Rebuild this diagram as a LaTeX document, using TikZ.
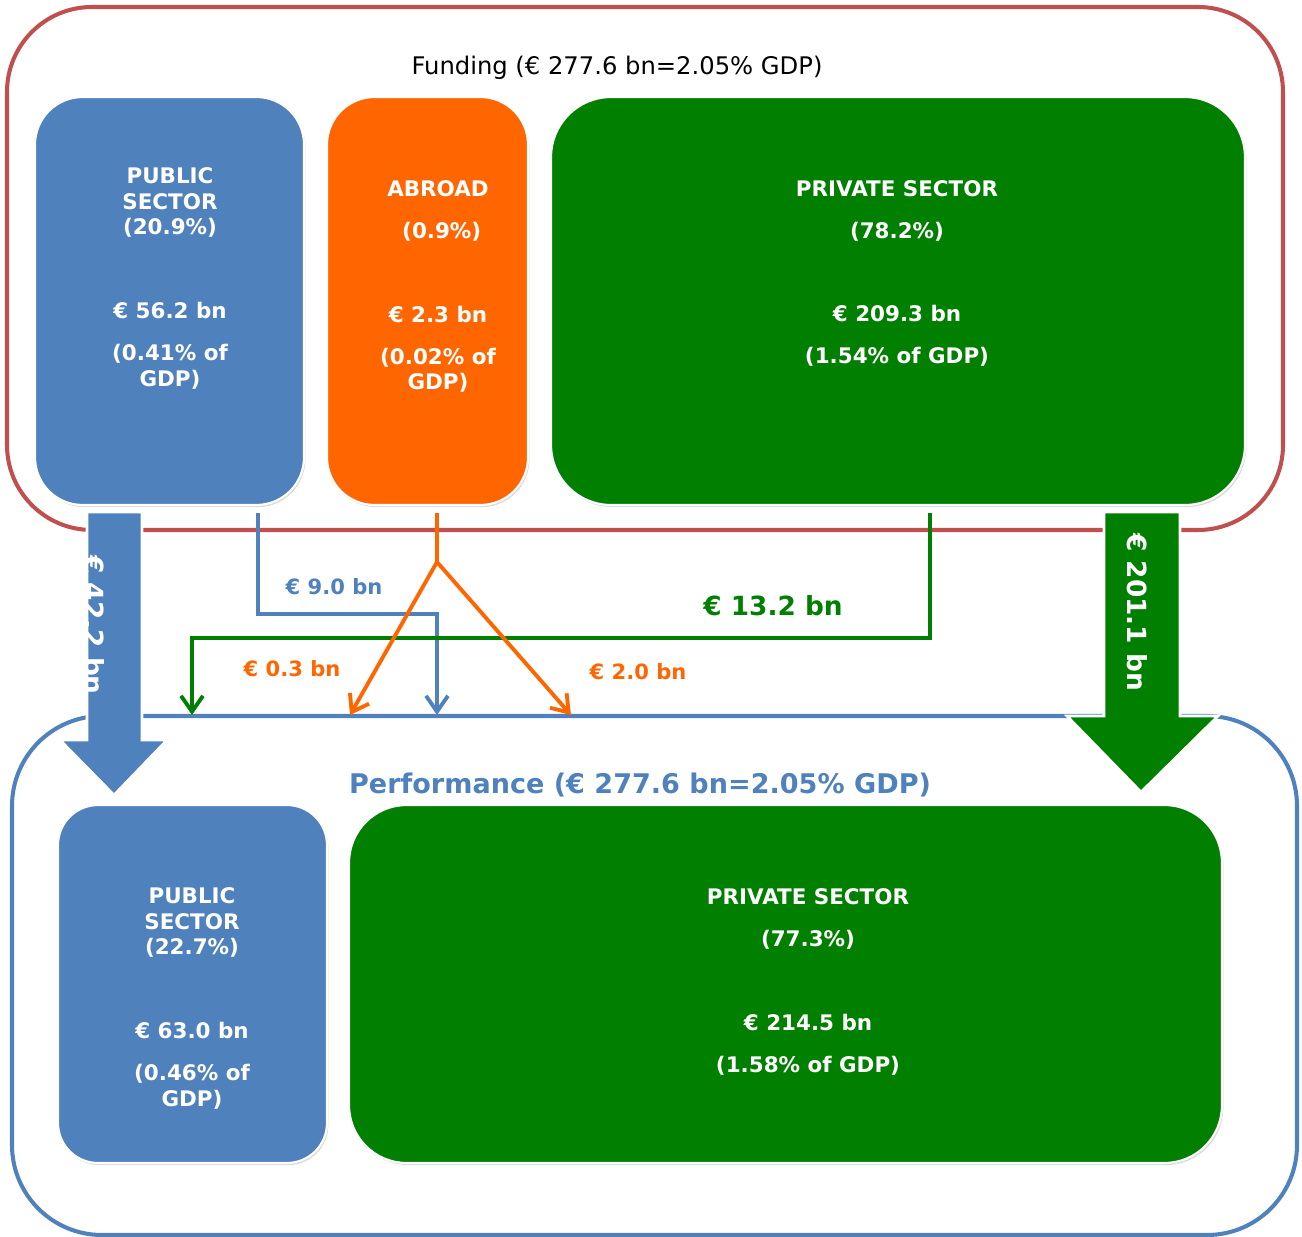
\documentclass[tikz,border=0pt]{standalone}
\usepackage{fontspec}
\setmainfont{DejaVu Sans}
\usepackage{tikz}
\usepackage{xcolor}
\usetikzlibrary{arrows.meta, shadows, positioning, calc}

\definecolor{pubblue}{HTML}{4F81BD}
\definecolor{abrorange}{HTML}{FF6600}
\definecolor{privgreen}{HTML}{007F00}
\definecolor{fundred}{HTML}{C0504D}

\begin{document}
\begin{tikzpicture}[x=0.02cm, y=-0.02cm,
    sectorbox/.style={draw=white, line width=1.2pt, rounded corners=#1, inner sep=0pt,
        drop shadow={shadow xshift=0.8pt, shadow yshift=-1.2pt, opacity=0.3}},
    boxtext/.style={text=white, align=center, inner sep=0pt,
        font=\bfseries\fontsize{12.2}{14.5}\selectfont},
    flowline/.style={line width=2.2pt},
    flowtip/.style={-{Straight Barb[length=9pt, width=12.5pt]}},
    flowlabel/.style={font=\bfseries\fontsize{12}{14.5}\selectfont},
    bigflow/.style={draw=white, line width=1.5pt},
    biglabel/.style={text=white, inner sep=0pt, rotate=-90,
        font=\bfseries\fontsize{15}{18}\selectfont}]
    \useasboundingbox (0,0) rectangle (1302,1237);

    % Funding and performance frames
    \draw[fundred, line width=2.3pt, rounded corners=1.7cm] (7,7) rectangle (1283,530);
    \draw[pubblue, line width=2.3pt, rounded corners=1.8cm] (12,716) rectangle (1297,1235);

    \node (fundTitle) at (617,68) {\fontsize{13.8}{16}\selectfont Funding (€ 277.6 bn=2.05\% GDP)};
    \node[text=pubblue] (perfTitle) at (640,785)
        {\bfseries\fontsize{15.4}{18}\selectfont Performance (€ 277.6 bn=2.05\% GDP)};

    % Funding sectors
    \node[sectorbox=0.95cm, fill=pubblue, minimum width=5.38cm, minimum height=8.16cm] (pubF) at (169.5,301) {};
    \node[sectorbox=0.95cm, fill=abrorange, minimum width=4.02cm, minimum height=8.16cm] (abrF) at (427.5,301) {};
    \node[sectorbox=1.2cm, fill=privgreen, minimum width=13.88cm, minimum height=8.16cm] (privF) at (898,301) {};

    \node[boxtext] (pubFtext) at (170,278.5)
        {PUBLIC\\SECTOR\\(20.9\%)\\[33.2pt]€ 56.2 bn\\[9.35pt](0.41\% of\\GDP)};
    \node[boxtext] (abrFtext) at (438,286.5)
        {ABROAD\\[9.35pt]~(0.9\%)\\[33.2pt]€ 2.3 bn\\[9.35pt](0.02\% of\\GDP)};
    \node[boxtext] (privFtext) at (897,273.5)
        {PRIVATE SECTOR\\[9.35pt](78.2\%)\\[33.2pt]€ 209.3 bn\\[9.35pt](1.54\% of GDP)};

    % Performance sectors
    \node[sectorbox=0.8cm, fill=pubblue, minimum width=5.38cm, minimum height=7.16cm] (pubP) at (192.5,984) {};
    \node[sectorbox=1.15cm, fill=privgreen, minimum width=17.46cm, minimum height=7.16cm] (privP) at (785.5,984) {};

    \node[boxtext] (pubPtext) at (192,998.5)
        {PUBLIC\\SECTOR\\(22.7\%)\\[33.2pt]€ 63.0 bn\\[9.35pt](0.46\% of\\GDP)};
    \node[boxtext] (privPtext) at (808,982)
        {PRIVATE SECTOR\\[9.35pt](77.3\%)\\[33.2pt]€ 214.5 bn\\[9.35pt](1.58\% of GDP)};

    % Cross flows
    \coordinate (pubOut) at ($(pubF.south)+(88.5,7)$);
    \coordinate (abrOut) at ($(abrF.south)+(9.5,7)$);
    \coordinate (privOut) at ($(privF.south)+(32,7)$);
    \coordinate (abrSplit) at (437,562);
    \coordinate (pubIn) at (437,715);
    \coordinate (abrInL) at (350,715);
    \coordinate (abrInR) at (571,715);
    \coordinate (privIn) at (192,715);

    \draw[flowline, pubblue, flowtip] (pubOut) -- ++(0,101) -| (pubIn);
    \draw[flowline, privgreen, flowtip] (privOut) -- ++(0,125) -| (privIn);
    \draw[flowline, abrorange] (abrOut) -- (abrSplit);
    \draw[flowline, abrorange, flowtip] (abrSplit) -- (abrInL);
    \draw[flowline, abrorange, flowtip] (abrSplit) -- (abrInR);

    \node[flowlabel, text=pubblue] (pubFlow) at (334,587) {€ 9.0 bn};
    \node[flowlabel, text=privgreen, font=\bfseries\fontsize{15}{18}\selectfont] (privFlow) at (773,606) {€ 13.2 bn};
    \node[flowlabel, text=abrorange] (abrFlowL) at (292,669) {€ 0.3 bn};
    \node[flowlabel, text=abrorange] (abrFlowR) at (638,672) {€ 2.0 bn};

    % Own-sector block arrows
    \draw[bigflow, fill=pubblue] (87,512) -- (142,512) -- (142,740) -- (167,740) -- (114,795)
        -- (60,740) -- (87,740) -- cycle;
    \draw[bigflow, fill=privgreen] (1104,512) -- (1180,512) -- (1180,716) -- (1218,716) -- (1141,792)
        -- (1067,716) -- (1104,716) -- cycle;

    \node[biglabel] (pubBig) at (94,625) {€ 42.2 bn};
    \node[biglabel] (privBig) at (1137,612) {€ 201.1 bn};
\end{tikzpicture}
\end{document}
